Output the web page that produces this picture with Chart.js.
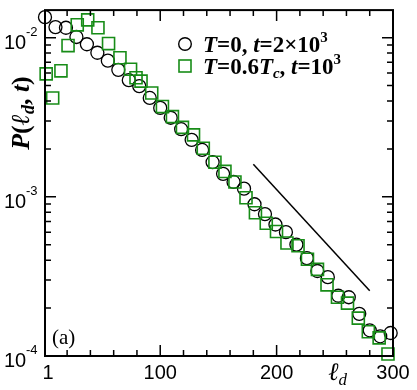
<!DOCTYPE html>
<html>
<head>
<meta charset="utf-8">
<script src="https://cdn.jsdelivr.net/npm/chart.js@4.4.0/dist/chart.umd.min.js"></script>
<style>
  html, body { margin: 0; padding: 0; background: #fff; }
</style>
</head>
<body>
<canvas id="distChart" width="417" height="390"></canvas>
<script>
// T=0, t=2x10^3 (open circles)
const circleX = [1, 10, 19, 28, 37, 46, 55, 64, 73, 82, 91, 100, 109, 118, 127, 136, 145,
    154, 163, 172, 181, 190, 199, 208, 217, 226, 235, 244, 253, 262, 271, 280, 289, 298];
const circleY = [0.01345, 0.01165, 0.01154, 0.0101, 0.00909, 0.00804, 0.00717, 0.00628, 0.00541,
    0.00496, 0.00418, 0.00362, 0.00314, 0.00266, 0.00228, 0.00197, 0.00165, 0.001395, 0.00124,
    0.001126, 0.000898, 0.000779, 0.00067, 0.0006, 0.000501, 0.000412, 0.000342, 0.000313,
    0.000239, 0.000234, 0.000184, 0.000145, 0.000133, 0.0001395];

// T=0.6Tc, t=10^3 (open squares)
const squareX = [2, 7.6, 14.7, 20.8, 28.7, 37.7, 46.5, 55.6, 65.4, 74.5, 79.2, 83.5, 92.7, 101.9,
    110.5, 119.1, 128.6, 137, 147, 155.6, 164.2, 173.7, 181.8, 191.1, 199.9, 208.9, 218.4, 226.5,
    235.1, 243.3, 252.3, 260.9, 270.2, 278.8, 288.1, 295.7];
const squareY = [0.00592, 0.00418, 0.00619, 0.00892, 0.01204, 0.01294, 0.01154, 0.00918, 0.00748,
    0.00633, 0.0056, 0.00533, 0.00449, 0.00369, 0.00319, 0.00273, 0.00245, 0.00202, 0.00165,
    0.001444, 0.00124, 0.000986, 0.000795, 0.000683, 0.000606, 0.000513, 0.000493, 0.000405,
    0.00035, 0.00028, 0.000234, 0.000215, 0.000173, 0.000142, 0.00013, 0.000103];

// power-law guide line
const guideX = [180, 280];
const guideY = [0.0016, 0.000257];

const xTickValues = [1, 100, 200, 300];
const xTickLabels = ['1', '100', '200', '300'];
const xMinorTicks = [20, 40, 60, 80, 120, 140, 160, 180, 220, 240, 260, 280];
const yDecades = [-4, -3, -2];

const green = '#178c17';
const serif = "'Liberation Serif', 'DejaVu Serif', serif";
const sans = "'Liberation Sans', Arial, sans-serif";

const toPoints = (xs, ys) => xs.map((x, i) => ({ x: x, y: ys[i] }));

// draws text pieces one after another: [text, font, dy]
function drawRuns(ctx, runs, x, y) {
    runs.forEach(r => {
        ctx.font = r[1];
        ctx.fillText(r[0], x, y + (r[2] || 0));
        x += ctx.measureText(r[0]).width;
    });
    return x;
}

const framePlugin = {
    id: 'frame',
    afterDraw(chart) {
        const ctx = chart.ctx;
        const a = chart.chartArea;
        const xs = chart.scales.x;
        const ys = chart.scales.y;
        ctx.save();
        ctx.strokeStyle = '#000';
        ctx.fillStyle = '#000';

        // ticks pointing inwards on all four sides
        ctx.lineWidth = 1.5;
        const tick = (px, len, horiz) => {
            ctx.beginPath();
            if (horiz) {
                ctx.moveTo(a.left, px); ctx.lineTo(a.left + len, px);
                ctx.moveTo(a.right, px); ctx.lineTo(a.right - len, px);
            } else {
                ctx.moveTo(px, a.bottom); ctx.lineTo(px, a.bottom - len);
                ctx.moveTo(px, a.top); ctx.lineTo(px, a.top + len);
            }
            ctx.stroke();
        };
        xTickValues.forEach(v => tick(xs.getPixelForValue(v), 11, false));
        xMinorTicks.forEach(v => tick(xs.getPixelForValue(v), 6, false));
        yDecades.forEach(d => {
            tick(ys.getPixelForValue(Math.pow(10, d)), 11, true);
            if (d < -2) {
                for (let m = 2; m <= 9; m++) tick(ys.getPixelForValue(m * Math.pow(10, d)), 6, true);
            }
        });

        ctx.lineWidth = 2;
        ctx.strokeRect(a.left, a.top, a.right - a.left, a.bottom - a.top);

        // x tick labels
        ctx.font = '20px ' + sans;
        ctx.textAlign = 'center';
        ctx.textBaseline = 'alphabetic';
        xTickValues.forEach((v, i) => {
            let px = xs.getPixelForValue(v);
            if (i === 0) px += 3;
            ctx.fillText(xTickLabels[i], px, a.bottom + 23);
        });

        // y tick labels 10^d
        ctx.textAlign = 'left';
        yDecades.forEach(d => {
            const py = ys.getPixelForValue(Math.pow(10, d));
            ctx.font = '20px ' + sans;
            ctx.fillText('10', 4, py + 11);
            ctx.font = '13px ' + sans;
            ctx.fillText('-' + (-d), 26, py - 2);
        });

        // axis titles
        ctx.save();
        ctx.translate(29, 113);
        ctx.rotate(-Math.PI / 2);
        const bi = 'bold italic 26px ' + serif;
        const br = 'bold 26px ' + serif;
        const sub = 'bold italic 18px ' + serif;
        const yTitle = [['P', bi], ['(', br], ['\u2113', bi], ['d', sub, 5], [', ', br], ['t', bi], [')', br]];
        let w = 0;
        yTitle.forEach(r => { ctx.font = r[1]; w += ctx.measureText(r[0]).width; });
        drawRuns(ctx, yTitle, -w / 2, 0);
        ctx.restore();

        drawRuns(ctx, [['\u2113', 'italic 25px ' + serif], ['d', 'italic 17px ' + serif, 5]], 328, a.bottom + 24);

        // panel label
        ctx.font = '21px ' + serif;
        ctx.fillText('(a)', 52, a.bottom - 12);

        // legend
        const lx = 185;
        const rows = [44, 66];
        ctx.lineWidth = 1.4;
        ctx.beginPath();
        ctx.arc(lx, rows[0], 6.3, 0, Math.PI * 2);
        ctx.stroke();
        ctx.strokeStyle = green;
        ctx.lineWidth = 1.6;
        ctx.strokeRect(lx - 6, rows[1] - 6, 12, 12);

        const lb = 'bold italic 23px ' + serif;
        const lr = 'bold 23px ' + serif;
        const ls = 'bold 15px ' + serif;
        drawRuns(ctx, [['T', lb], ['=0, ', lr], ['t', lb], ['=2\u00d710', lr], ['3', ls, -10]], 203, rows[0] + 8);
        drawRuns(ctx, [['T', lb], ['=0.6', lr], ['T', lb], ['c', 'bold italic 15px ' + serif, 4],
            [', ', lr], ['t', lb], ['=10', lr], ['3', ls, -10]], 203, rows[1] + 8);
        ctx.restore();
    }
};

new Chart(document.getElementById('distChart'), {
    type: 'scatter',
    data: {
        datasets: [
            {
                label: 'T=0.6Tc, t=10^3',
                data: toPoints(squareX, squareY),
                pointStyle: 'rect',
                pointRadius: 8.5,
                borderColor: green,
                backgroundColor: 'rgba(0,0,0,0)',
                borderWidth: 1.6,
                clip: false,
                order: 1
            },
            {
                label: 'T=0, t=2x10^3',
                data: toPoints(circleX, circleY),
                pointStyle: 'circle',
                pointRadius: 6.5,
                borderColor: '#000',
                backgroundColor: 'rgba(0,0,0,0)',
                borderWidth: 1.3,
                clip: false,
                order: 2
            },
            {
                label: 'guide',
                data: toPoints(guideX, guideY),
                showLine: true,
                pointRadius: 0,
                borderColor: '#000',
                borderWidth: 1.5,
                order: 0
            }
        ]
    },
    options: {
        responsive: false,
        animation: false,
        devicePixelRatio: 1,
        layout: { padding: { left: 45, top: 6, right: 24, bottom: 34 } },
        scales: {
            x: { type: 'linear', display: false, min: 1, max: 300 },
            y: { type: 'logarithmic', display: false, min: 1e-4, max: 0.0149 }
        },
        plugins: {
            legend: { display: false },
            tooltip: { enabled: false }
        }
    },
    plugins: [framePlugin]
});
</script>
</body>
</html>
